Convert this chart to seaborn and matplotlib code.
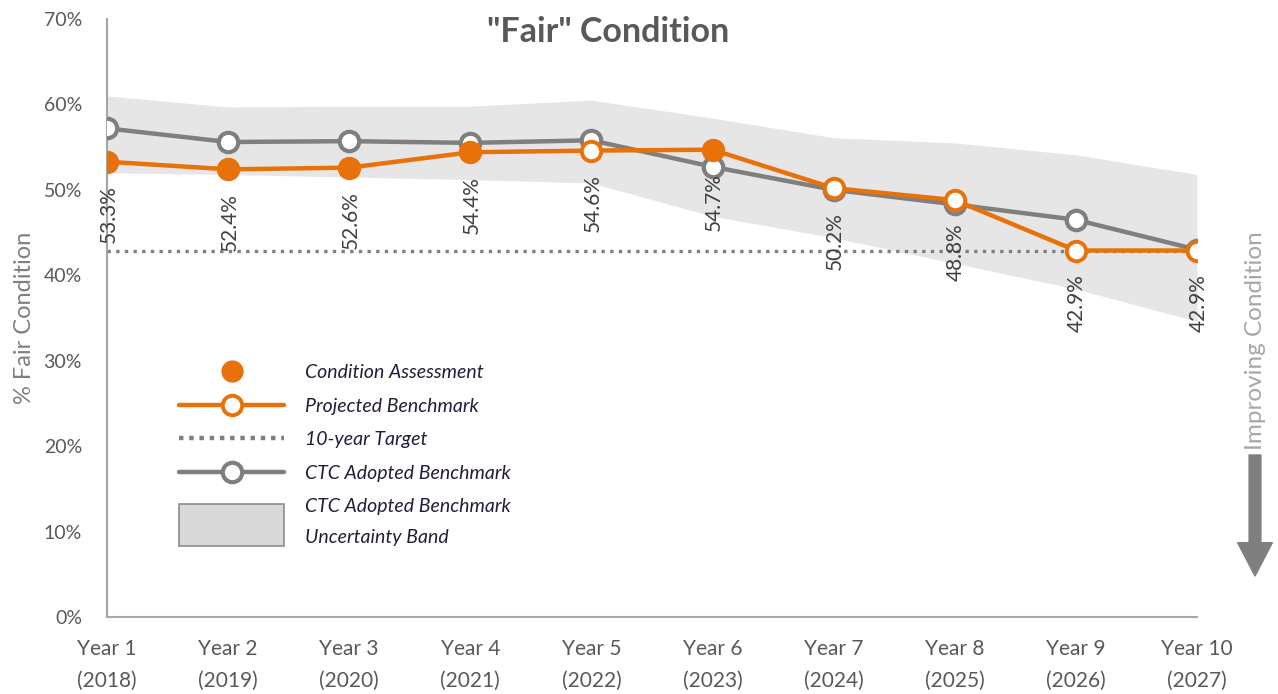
import numpy as np
import pandas as pd
import seaborn as sns
import matplotlib.pyplot as plt
from matplotlib.lines import Line2D
from matplotlib.patches import Patch, Rectangle
from matplotlib.legend_handler import HandlerPatch
from matplotlib.ticker import FuncFormatter

# data (percent)
years = ['Year 1\n(2018)', 'Year 2\n(2019)', 'Year 3\n(2020)', 'Year 4\n(2021)', 'Year 5\n(2022)',
         'Year 6\n(2023)', 'Year 7\n(2024)', 'Year 8\n(2025)', 'Year 9\n(2026)', 'Year 10\n(2027)']
projected = [53.3, 52.4, 52.6, 54.4, 54.6, 54.7, 50.2, 48.8, 42.9, 42.9]
assessed_years = [0, 1, 2, 3, 5]
assessed = [53.3, 52.4, 52.6, 54.4, 54.7]
ctc_benchmark = [57.2, 55.6, 55.7, 55.5, 55.8, 52.7, 50.0, 48.3, 46.5, 43.0]
band_upper = [61.0, 59.7, 59.8, 59.8, 60.5, 58.4, 56.1, 55.5, 54.1, 51.8]
band_lower = [52.0, 51.8, 51.5, 51.2, 50.8, 46.9, 44.4, 41.4, 38.4, 34.6]
target = 42.9

ORANGE = '#E8710A'
GRAY = '#7F7F7F'
TEXT = '#595959'

sns.set_style('white')
plt.rcParams['font.family'] = ['Lato', 'DejaVu Sans']

df = pd.DataFrame({'x': np.arange(len(years)), 'projected': projected,
                   'ctc': ctc_benchmark, 'upper': band_upper, 'lower': band_lower})
df_assessed = pd.DataFrame({'x': assessed_years, 'value': assessed})

fig = plt.figure(figsize=(12.78, 6.94), dpi=100)
ax = fig.add_axes([107 / 1278, 1 - 617 / 694, 1090 / 1278, 598 / 694])

ax.fill_between(df['x'], df['lower'], df['upper'], color='#E6E6E6', lw=0, zorder=1)
ax.axhline(target, color=GRAY, lw=2.4, ls=(0, (1, 1.6)), zorder=2)

sns.lineplot(data=df, x='x', y='ctc', ax=ax, color=GRAY, lw=3.2, marker='o', markersize=14,
             markerfacecolor='white', markeredgecolor=GRAY, markeredgewidth=3, zorder=3)
sns.lineplot(data=df, x='x', y='projected', ax=ax, color=ORANGE, lw=3.2, marker='o', markersize=14,
             markerfacecolor='white', markeredgecolor=ORANGE, markeredgewidth=2.8, zorder=4)
sns.scatterplot(data=df_assessed, x='x', y='value', ax=ax, color=ORANGE, s=230,
                edgecolor=ORANGE, linewidth=1, zorder=5)

for i, v in enumerate(projected):
    ax.annotate(f'{v:.1f}%', (i, v), xytext=(1, -17), textcoords='offset points',
                rotation=90, ha='center', va='top', fontsize=15, color='#404040', zorder=6)

ax.set_xlim(0, len(years) - 1)
ax.set_ylim(0, 70)
ax.set_yticks(np.arange(0, 71, 10))
ax.yaxis.set_major_formatter(FuncFormatter(lambda v, p: f'{v:.0f}%'))
ax.set_xticks(df['x'])
ax.set_xticklabels(years, linespacing=1.75)
ax.tick_params(axis='both', colors='#A6A6A6', labelcolor=TEXT, length=6, width=1.2,
               direction='out')
ax.tick_params(axis='x', pad=10, labelsize=15)
ax.tick_params(axis='y', pad=12, labelsize=14)
for side in ['top', 'right']:
    ax.spines[side].set_visible(False)
for side in ['left', 'bottom']:
    ax.spines[side].set_color('#A6A6A6')
    ax.spines[side].set_linewidth(1.5)
ax.set_xlabel('')
ax.set_ylabel('% Fair Condition', fontsize=17, color=GRAY, labelpad=6)

fig.text(608 / 1278, 1 - 32 / 694, '"Fair" Condition', ha='center', va='center',
         fontsize=24.5, fontweight='bold', color=TEXT)
fig.text(1255 / 1278, 1 - 341 / 694, 'Improving Condition', ha='center', va='center',
         rotation=90, fontsize=17.5, color='#A6A6A6')
ax.annotate('', xy=(1255, 694 - 576), xycoords='figure pixels', xytext=(1255, 694 - 455),
            textcoords='figure pixels',
            arrowprops=dict(arrowstyle='simple,head_length=2.4,head_width=2.5,tail_width=0.85',
                            mutation_scale=10, color=GRAY, shrinkA=0, shrinkB=0))


class TallBox(HandlerPatch):
    def create_artists(self, legend, orig_handle, xdescent, ydescent, width, height, fontsize, trans):
        h = height * 3.1
        r = Rectangle((-xdescent, -ydescent + height / 2 - h / 2 - 2), width, h,
                      facecolor='#D9D9D9', edgecolor='#8C8C8C', lw=1.2, transform=trans)
        return [r]


handles = [
    Line2D([], [], ls='none', marker='o', markersize=15, color=ORANGE),
    Line2D([], [], color=ORANGE, lw=3.2, marker='o', markersize=14, markerfacecolor='white',
           markeredgewidth=2.8),
    Line2D([], [], color=GRAY, lw=3.2, ls=(0, (1, 1.3))),
    Line2D([], [], color=GRAY, lw=3.2, marker='o', markersize=14, markerfacecolor='white',
           markeredgewidth=3),
    Patch(facecolor='#D9D9D9', edgecolor='#8C8C8C'),
]
labels = ['Condition Assessment', 'Projected Benchmark', '10-year Target',
          'CTC Adopted Benchmark', 'CTC Adopted Benchmark\nUncertainty Band']
leg = ax.legend(handles, labels, loc='upper left', bbox_to_anchor=(0.05, 0.452),
                frameon=False, handlelength=5.4, handletextpad=1.1, labelspacing=0.85,
                prop={'style': 'italic', 'size': 14}, handler_map={Patch: TallBox()})
for t in leg.get_texts():
    t.set_color('#1F1F3A')
    t.set_linespacing(2.0)

fig.savefig('out.png', dpi=100)
